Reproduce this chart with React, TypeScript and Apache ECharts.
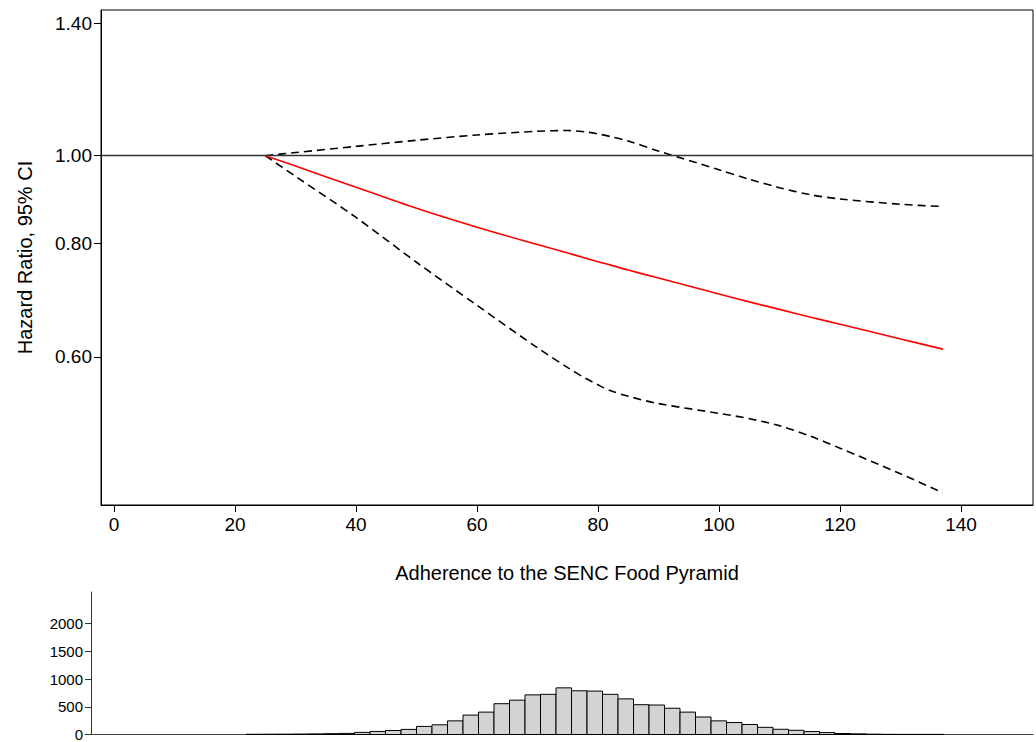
import React, { useEffect, useRef } from "react";
import * as echarts from "echarts";

// Adherence score grid for the fitted curves
const xValues = [25, 30, 40, 50, 60, 70, 75, 78, 80, 82, 85, 90, 100, 105, 110, 115, 120, 130, 137];
// Hazard ratio (red) and 95% CI bounds (dashed)
const hazardRatio = [1.0, 0.974, 0.923, 0.875, 0.834, 0.798, 0.781, 0.771, 0.764, 0.758, 0.748, 0.733, 0.704, 0.69, 0.677, 0.664, 0.652, 0.628, 0.612];
const upperCI = [1.0, 1.008, 1.024, 1.04, 1.054, 1.064, 1.066, 1.062, 1.057, 1.05, 1.038, 1.012, 0.965, 0.942, 0.922, 0.906, 0.896, 0.884, 0.879];
const lowerCI = [1.0, 0.949, 0.855, 0.763, 0.684, 0.614, 0.584, 0.568, 0.559, 0.551, 0.543, 0.533, 0.52, 0.513, 0.504, 0.491, 0.476, 0.446, 0.425];

// Axis ticks
const xTicks = [0, 20, 40, 60, 80, 100, 120, 140];
const yTicksHR = [0.6, 0.8, 1.0, 1.4];
const histTicks = [0, 500, 1000, 1500, 2000];

// Histogram of adherence scores
const histBinStart = 21.82;
const histBinWidth = 2.562;
const histCounts = [
  4, 5, 6, 8, 11, 15, 20, 38, 55, 72, 92, 146, 175, 246, 350, 404, 556, 620, 715, 725,
  842, 789, 784, 725, 643, 538, 532, 474, 404, 316, 246, 216, 181, 129, 94, 76, 53, 35, 18, 12,
  6, 3, 2, 2, 2,
];

const FONT = "'Liberation Sans', Arial, Helvetica, sans-serif";

export default function App() {
  const ref = useRef<HTMLDivElement>(null);

  useEffect(() => {
    document.body.style.margin = "0";
    if (!ref.current) return;
    const chart = echarts.init(ref.current, null, { renderer: "svg" });

    const toPts = (ys: number[]) => xValues.map((x, i) => [x, Math.log(ys[i])]);
    const histData = histCounts.map((c, i) => [
      histBinStart + i * histBinWidth,
      histBinStart + (i + 1) * histBinWidth,
      c,
    ]);

    const xMin = -2.149;
    const xMax = 151.9;
    const histXMin = xMin - 10 / 6.05;

    const dashed = {
      type: "line",
      xAxisIndex: 0,
      yAxisIndex: 0,
      showSymbol: false,
      smooth: 0.3,
      lineStyle: { color: "#000", width: 1.6, type: [8, 5] },
      silent: true,
    };

    chart.setOption({
      animation: false,
      textStyle: { fontFamily: FONT },
      grid: [
        {
          left: 101,
          right: 3,
          top: 10,
          bottom: 237,
          show: true,
          borderColor: "#000",
          borderWidth: 1,
        },
        { left: 91, right: 3, top: 592, bottom: 3.7 },
      ],
      xAxis: [
        {
          type: "value",
          gridIndex: 0,
          min: xMin,
          max: xMax,
          name: "Adherence to the SENC Food Pyramid",
          nameLocation: "middle",
          nameGap: 58,
          nameTextStyle: { fontSize: 20, color: "#000", fontFamily: FONT },
          axisLine: { show: true, onZero: false, lineStyle: { color: "#000", width: 1 } },
          axisTick: { show: true, length: 7, customValues: xTicks, lineStyle: { color: "#000" } },
          axisLabel: { customValues: xTicks, fontSize: 19, color: "#000", margin: 10, fontFamily: FONT },
          splitLine: { show: false },
        },
        {
          type: "value",
          gridIndex: 1,
          min: histXMin,
          max: xMax,
          axisLine: { show: true, onZero: false, lineStyle: { color: "#444", width: 1 } },
          axisTick: { show: false },
          axisLabel: { show: false },
          splitLine: { show: false },
        },
      ],
      yAxis: [
        {
          type: "value",
          gridIndex: 0,
          min: -0.8866,
          max: 0.3698,
          name: "Hazard Ratio, 95% CI",
          nameLocation: "middle",
          nameGap: 66,
          nameRotate: 90,
          nameTextStyle: { fontSize: 20, color: "#000", fontFamily: FONT },
          axisLine: { show: true, onZero: false, lineStyle: { color: "#000", width: 1 } },
          axisTick: {
            show: true,
            length: 7,
            customValues: yTicksHR.map((v) => Math.log(v)),
            lineStyle: { color: "#000" },
          },
          axisLabel: {
            customValues: yTicksHR.map((v) => Math.log(v)),
            formatter: (v: number) => Math.exp(v).toFixed(2),
            fontSize: 19,
            color: "#000",
            margin: 9,
            fontFamily: FONT,
          },
          splitLine: { show: false },
        },
        {
          type: "value",
          gridIndex: 1,
          min: 0,
          max: 2572,
          axisLine: { show: true, onZero: false, lineStyle: { color: "#333", width: 1 } },
          axisTick: { show: true, length: 6, customValues: histTicks, lineStyle: { color: "#333" } },
          axisLabel: {
            customValues: histTicks,
            formatter: (v: number) => String(Math.round(v)),
            fontSize: 15,
            color: "#000",
            margin: 8,
            fontFamily: FONT,
          },
          splitLine: { show: false },
        },
      ],
      series: [
        {
          type: "line",
          xAxisIndex: 0,
          yAxisIndex: 0,
          data: [],
          silent: true,
          markLine: {
            silent: true,
            symbol: "none",
            label: { show: false },
            lineStyle: { color: "#333", width: 1.4, type: "solid" },
            data: [{ yAxis: 0 }],
          },
        },
        { ...dashed, name: "upper", data: toPts(upperCI) },
        { ...dashed, name: "lower", data: toPts(lowerCI) },
        {
          type: "line",
          name: "HR",
          xAxisIndex: 0,
          yAxisIndex: 0,
          showSymbol: false,
          smooth: 0.3,
          lineStyle: { color: "#ff0000", width: 1.6 },
          data: toPts(hazardRatio),
          silent: true,
        },
        {
          type: "custom",
          xAxisIndex: 1,
          yAxisIndex: 1,
          encode: { x: [0, 1], y: 2 },
          data: histData,
          silent: true,
          renderItem: (params: any, api: any) => {
            const p0 = api.coord([api.value(0), api.value(2)]);
            const p1 = api.coord([api.value(1), 0]);
            return {
              type: "rect",
              shape: { x: p0[0], y: p0[1], width: p1[0] - p0[0], height: p1[1] - p0[1] },
              style: { fill: "#d3d3d3", stroke: "#000", lineWidth: 1 },
            };
          },
        },
      ],
    });

    return () => chart.dispose();
  }, []);

  return <div ref={ref} style={{ width: 1036, height: 742 }} />;
}
